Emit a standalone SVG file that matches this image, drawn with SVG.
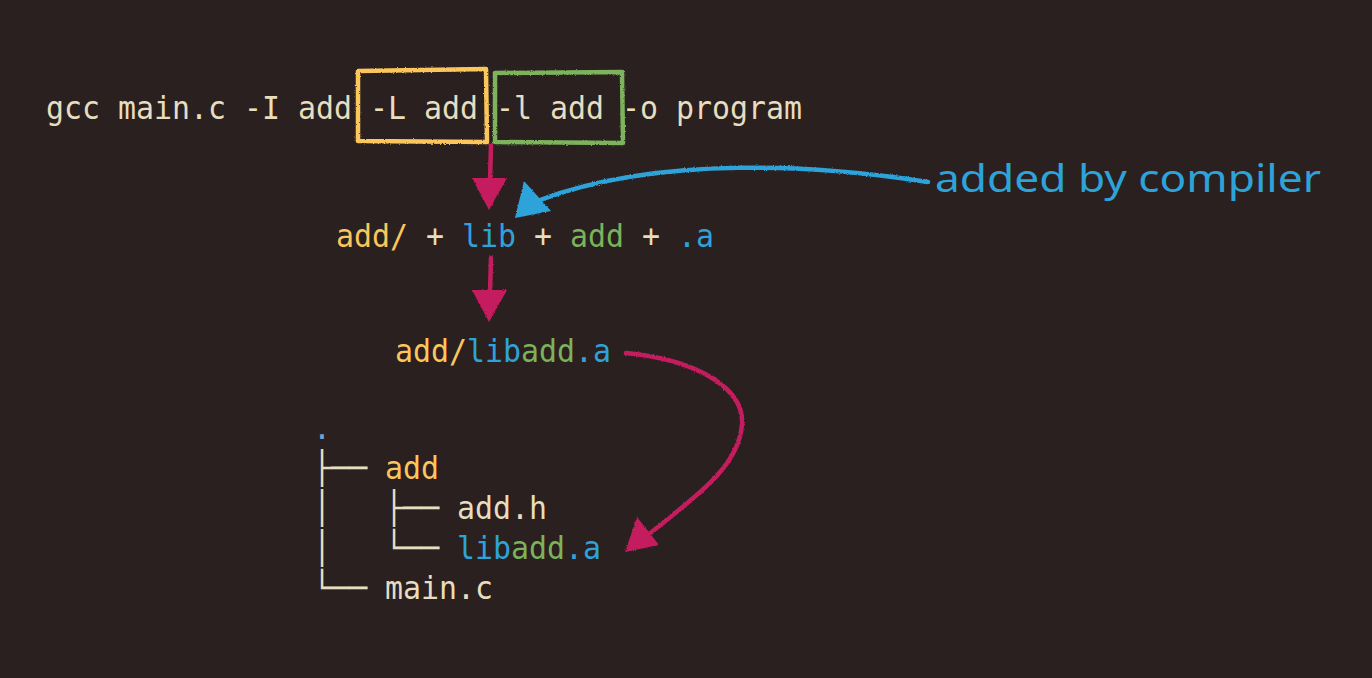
<svg xmlns="http://www.w3.org/2000/svg" width="1372" height="678" viewBox="0 0 1372 678">
  <defs>
    <filter id="rough" x="-10%" y="-10%" width="120%" height="120%">
      <feTurbulence type="fractalNoise" baseFrequency="0.9" numOctaves="2" seed="3" result="n"/>
      <feDisplacementMap in="SourceGraphic" in2="n" scale="2.5" xChannelSelector="R" yChannelSelector="G"/>
    </filter>
    <style>
      .mono { font-family: "DejaVu Sans Mono", "Liberation Mono", monospace; font-size: 32px; fill: #e7ddbf; }
      .y { fill: #fbc65b; }
      .g { fill: #7bb35b; }
      .b { fill: #2ea3da; }
      .dot { fill: #6aa3d4; }
      .hand { font-family: "Noto Sans", "DejaVu Sans", sans-serif; font-size: 38px; fill: #2ea3da; }
      .box { fill: none; stroke-width: 4.5; stroke-linejoin: round; }
      .pink { stroke: #c41e5e; fill: none; stroke-linecap: round; }
      .pinkhead { fill: #c41e5e; }
      .blue { stroke: #2ea3da; fill: none; stroke-linecap: round; }
      .bluehead { fill: #2ea3da; }
    </style>
  </defs>
  <rect width="1372" height="678" fill="#2a201f"/>

  <g id="node-command">
    <text class="mono" x="46" y="119" textLength="756" lengthAdjust="spacingAndGlyphs" xml:space="preserve">gcc main.c -I add -L add -l add -o program</text>
    <g filter="url(#rough)">
      <path class="box" stroke="#fbc65b" d="M358 71 L486 69 L487 142 L358 141 Z"/>
      <path class="box" stroke="#7bb35b" d="M495 73 L622 72 L623 143 L495 142 Z"/>
    </g>
  </g>

  <g id="node-formula">
    <text class="mono" x="336" y="247" textLength="378" lengthAdjust="spacingAndGlyphs" xml:space="preserve"><tspan class="y">add/</tspan> + <tspan class="b">lib</tspan> + <tspan class="g">add</tspan> + <tspan class="b">.a</tspan></text>
  </g>

  <g id="node-path">
    <text class="mono" x="395" y="362" textLength="216" lengthAdjust="spacingAndGlyphs"><tspan class="y">add/</tspan><tspan class="b">lib</tspan><tspan class="g">add</tspan><tspan class="b">.a</tspan></text>
  </g>

  <g id="node-tree">
    <text class="mono dot" x="313" y="439" textLength="18" lengthAdjust="spacingAndGlyphs">.</text>
    <text class="mono" x="313" y="479" textLength="54" lengthAdjust="spacingAndGlyphs">├──</text>
    <text class="mono y" x="385" y="479" textLength="54" lengthAdjust="spacingAndGlyphs">add</text>
    <text class="mono" x="313" y="519" textLength="18" lengthAdjust="spacingAndGlyphs">│</text>
    <text class="mono" x="385" y="519" textLength="54" lengthAdjust="spacingAndGlyphs">├──</text>
    <text class="mono" x="457" y="519" textLength="90" lengthAdjust="spacingAndGlyphs">add.h</text>
    <text class="mono" x="313" y="559" textLength="18" lengthAdjust="spacingAndGlyphs">│</text>
    <text class="mono" x="385" y="559" textLength="54" lengthAdjust="spacingAndGlyphs">└──</text>
    <text class="mono" x="457" y="559" textLength="144" lengthAdjust="spacingAndGlyphs"><tspan class="b">lib</tspan><tspan class="g">add</tspan><tspan class="b">.a</tspan></text>
    <text class="mono" x="313" y="599" textLength="54" lengthAdjust="spacingAndGlyphs">└──</text>
    <text class="mono" x="385" y="599" textLength="108" lengthAdjust="spacingAndGlyphs">main.c</text>
  </g>

  <g id="node-label">
    <text class="hand" x="935" y="192" textLength="386" lengthAdjust="spacingAndGlyphs">added by compiler</text>
  </g>

  <g id="connectors" filter="url(#rough)">
    <path class="pink" stroke-width="4.5" d="M491 145 L490 180"/>
    <polygon class="pinkhead" points="472,178 507,178 489,210"/>
    <path class="pink" stroke-width="4.5" d="M491 258 L490 292"/>
    <polygon class="pinkhead" points="472,290 507,290 489,322"/>
    <path class="pink" stroke-width="4.5" d="M626 353 C700 360 745 390 742 425 C738 470 690 500 648 535"/>
    <polygon class="pinkhead" points="625,552 637,517 659,545"/>
    <path class="blue" stroke-width="4.5" d="M928 182 C820 165 660 155 540 200"/>
    <polygon class="bluehead" points="515,218 524,181 551,211"/>
  </g>
</svg>
